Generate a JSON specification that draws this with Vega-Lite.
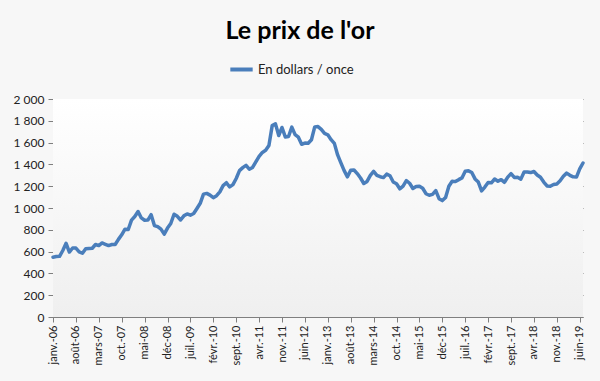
{
  "$schema": "https://vega.github.io/schema/vega-lite/v6.json",
  "autosize": {"type": "none"},
  "width": 530,
  "height": 218,
  "padding": {"left": 53, "top": 99, "right": 17, "bottom": 64},
  "background": "#f7f7f7",
  "title": {
    "text": "Le prix de l'or",
    "font": "Lato",
    "fontSize": 25,
    "fontWeight": "bold",
    "color": "#000000",
    "anchor": "middle",
    "frame": "group",
    "dx": -18,
    "offset": 12
  },
  "config": {
    "view": {"stroke": null},
    "font": "Lato"
  },
  "layer": [
    {
      "data": {"values": [{}]},
      "mark": {
        "type": "rect",
        "fill": {
          "gradient": "linear",
          "x1": 0, "y1": 0, "x2": 0, "y2": 1,
          "stops": [{"offset": 0, "color": "#ffffff"}, {"offset": 1, "color": "#efefef"}]
        }
      },
      "encoding": {}
    },
    {
      "mark": {"type": "line", "strokeWidth": 3.5, "strokeJoin": "round", "strokeCap": "round"},
      "encoding": {
        "x": {
          "field": "mois",
          "type": "ordinal",
          "sort": null,
          "scale": {"type": "point", "padding": 0},
          "axis": {
            "title": null,
            "values": ["janv.-06","août-06","mars-07","oct.-07","mai-08","déc-08","juil.-09","févr.-10","sept.-10","avr.-11","nov.-11","juin-12","janv.-13","août-13","mars-14","oct.-14","mai-15","déc-15","juil.-16","févr.-17","sept.-17","avr.-18","nov.-18","juin-19"],
            "labelAngle": 270,
            "labelFontSize": 11,
            "labelColor": "#222222",
            "labelPadding": 3,
            "tickSize": 5,
            "tickColor": "#7f7f7f",
            "domainColor": "#7f7f7f",
            "grid": false
          }
        },
        "y": {
          "field": "prix",
          "type": "quantitative",
          "scale": {"domain": [0, 2000], "nice": false, "zero": true},
          "axis": {
            "title": null,
            "values": [0,200,400,600,800,1000,1200,1400,1600,1800,2000],
            "labelExpr": "replace(format(datum.value, ','), ',', ' ')",
            "labelFontSize": 12,
            "labelColor": "#222222",
            "labelPadding": 4,
            "tickSize": 5,
            "tickColor": "#7f7f7f",
            "domainColor": "#7f7f7f",
            "gridColor": "#7f7f7f",
            "gridOpacity": 1,
            "gridWidth": 1
          }
        },
        "color": {
          "datum": "En dollars / once",
          "type": "nominal",
          "scale": {"range": ["#4a7ebb"]},
          "legend": {
            "title": null,
            "orient": "none",
            "legendX": 175,
            "legendY": -43,
            "symbolType": "stroke",
            "symbolStrokeWidth": 4,
            "symbolSize": 500,
            "labelFontSize": 13,
            "labelColor": "#222222",
            "labelOffset": 3
          }
        }
      },
      "data": {"values": [
        {"mois":"janv.-06","prix":549},{"mois":"févr.-06","prix":555},{"mois":"mars-06","prix":557},{"mois":"avr.-06","prix":610},{"mois":"mai-06","prix":676},{"mois":"juin-06","prix":596},{"mois":"juil.-06","prix":633},{"mois":"août-06","prix":632},{"mois":"sept.-06","prix":598},{"mois":"oct.-06","prix":585},{"mois":"nov.-06","prix":627},{"mois":"déc-06","prix":629},
        {"mois":"janv.-07","prix":631},{"mois":"févr.-07","prix":665},{"mois":"mars-07","prix":655},{"mois":"avr.-07","prix":679},{"mois":"mai-07","prix":667},{"mois":"juin-07","prix":655},{"mois":"juil.-07","prix":665},{"mois":"août-07","prix":665},{"mois":"sept.-07","prix":712},{"mois":"oct.-07","prix":754},{"mois":"nov.-07","prix":806},{"mois":"déc-07","prix":803},
        {"mois":"janv.-08","prix":889},{"mois":"févr.-08","prix":922},{"mois":"mars-08","prix":968},{"mois":"avr.-08","prix":909},{"mois":"mai-08","prix":888},{"mois":"juin-08","prix":889},{"mois":"juil.-08","prix":939},{"mois":"août-08","prix":839},{"mois":"sept.-08","prix":829},{"mois":"oct.-08","prix":806},{"mois":"nov.-08","prix":760},{"mois":"déc-08","prix":816},
        {"mois":"janv.-09","prix":858},{"mois":"févr.-09","prix":943},{"mois":"mars-09","prix":924},{"mois":"avr.-09","prix":890},{"mois":"mai-09","prix":928},{"mois":"juin-09","prix":946},{"mois":"juil.-09","prix":934},{"mois":"août-09","prix":949},{"mois":"sept.-09","prix":996},{"mois":"oct.-09","prix":1043},{"mois":"nov.-09","prix":1127},{"mois":"déc-09","prix":1134},
        {"mois":"janv.-10","prix":1118},{"mois":"févr.-10","prix":1095},{"mois":"mars-10","prix":1113},{"mois":"avr.-10","prix":1148},{"mois":"mai-10","prix":1205},{"mois":"juin-10","prix":1232},{"mois":"juil.-10","prix":1193},{"mois":"août-10","prix":1215},{"mois":"sept.-10","prix":1271},{"mois":"oct.-10","prix":1343},{"mois":"nov.-10","prix":1370},{"mois":"déc-10","prix":1391},
        {"mois":"janv.-11","prix":1356},{"mois":"févr.-11","prix":1372},{"mois":"mars-11","prix":1424},{"mois":"avr.-11","prix":1474},{"mois":"mai-11","prix":1510},{"mois":"juin-11","prix":1529},{"mois":"juil.-11","prix":1573},{"mois":"août-11","prix":1756},{"mois":"sept.-11","prix":1772},{"mois":"oct.-11","prix":1665},{"mois":"nov.-11","prix":1739},{"mois":"déc-11","prix":1652},
        {"mois":"janv.-12","prix":1656},{"mois":"févr.-12","prix":1742},{"mois":"mars-12","prix":1673},{"mois":"avr.-12","prix":1650},{"mois":"mai-12","prix":1585},{"mois":"juin-12","prix":1596},{"mois":"juil.-12","prix":1594},{"mois":"août-12","prix":1626},{"mois":"sept.-12","prix":1744},{"mois":"oct.-12","prix":1747},{"mois":"nov.-12","prix":1721},{"mois":"déc-12","prix":1684},
        {"mois":"janv.-13","prix":1671},{"mois":"févr.-13","prix":1627},{"mois":"mars-13","prix":1593},{"mois":"avr.-13","prix":1487},{"mois":"mai-13","prix":1414},{"mois":"juin-13","prix":1343},{"mois":"juil.-13","prix":1286},{"mois":"août-13","prix":1347},{"mois":"sept.-13","prix":1349},{"mois":"oct.-13","prix":1316},{"mois":"nov.-13","prix":1275},{"mois":"déc-13","prix":1225},
        {"mois":"janv.-14","prix":1244},{"mois":"févr.-14","prix":1300},{"mois":"mars-14","prix":1336},{"mois":"avr.-14","prix":1299},{"mois":"mai-14","prix":1287},{"mois":"juin-14","prix":1279},{"mois":"juil.-14","prix":1311},{"mois":"août-14","prix":1296},{"mois":"sept.-14","prix":1239},{"mois":"oct.-14","prix":1223},{"mois":"nov.-14","prix":1176},{"mois":"déc-14","prix":1201},
        {"mois":"janv.-15","prix":1251},{"mois":"févr.-15","prix":1227},{"mois":"mars-15","prix":1179},{"mois":"avr.-15","prix":1198},{"mois":"mai-15","prix":1199},{"mois":"juin-15","prix":1181},{"mois":"juil.-15","prix":1131},{"mois":"août-15","prix":1117},{"mois":"sept.-15","prix":1125},{"mois":"oct.-15","prix":1159},{"mois":"nov.-15","prix":1086},{"mois":"déc-15","prix":1068},
        {"mois":"janv.-16","prix":1097},{"mois":"févr.-16","prix":1200},{"mois":"mars-16","prix":1246},{"mois":"avr.-16","prix":1242},{"mois":"mai-16","prix":1260},{"mois":"juin-16","prix":1276},{"mois":"juil.-16","prix":1337},{"mois":"août-16","prix":1341},{"mois":"sept.-16","prix":1326},{"mois":"oct.-16","prix":1267},{"mois":"nov.-16","prix":1238},{"mois":"déc-16","prix":1157},
        {"mois":"janv.-17","prix":1192},{"mois":"févr.-17","prix":1234},{"mois":"mars-17","prix":1231},{"mois":"avr.-17","prix":1266},{"mois":"mai-17","prix":1246},{"mois":"juin-17","prix":1260},{"mois":"juil.-17","prix":1236},{"mois":"août-17","prix":1283},{"mois":"sept.-17","prix":1315},{"mois":"oct.-17","prix":1280},{"mois":"nov.-17","prix":1282},{"mois":"déc-17","prix":1265},
        {"mois":"janv.-18","prix":1331},{"mois":"févr.-18","prix":1331},{"mois":"mars-18","prix":1325},{"mois":"avr.-18","prix":1335},{"mois":"mai-18","prix":1303},{"mois":"juin-18","prix":1282},{"mois":"juil.-18","prix":1238},{"mois":"août-18","prix":1202},{"mois":"sept.-18","prix":1199},{"mois":"oct.-18","prix":1215},{"mois":"nov.-18","prix":1221},{"mois":"déc-18","prix":1250},
        {"mois":"janv.-19","prix":1291},{"mois":"févr.-19","prix":1320},{"mois":"mars-19","prix":1300},{"mois":"avr.-19","prix":1286},{"mois":"mai-19","prix":1284},{"mois":"juin-19","prix":1359},{"mois":"juil.-19","prix":1413}
      ]}
    }
  ]
}
